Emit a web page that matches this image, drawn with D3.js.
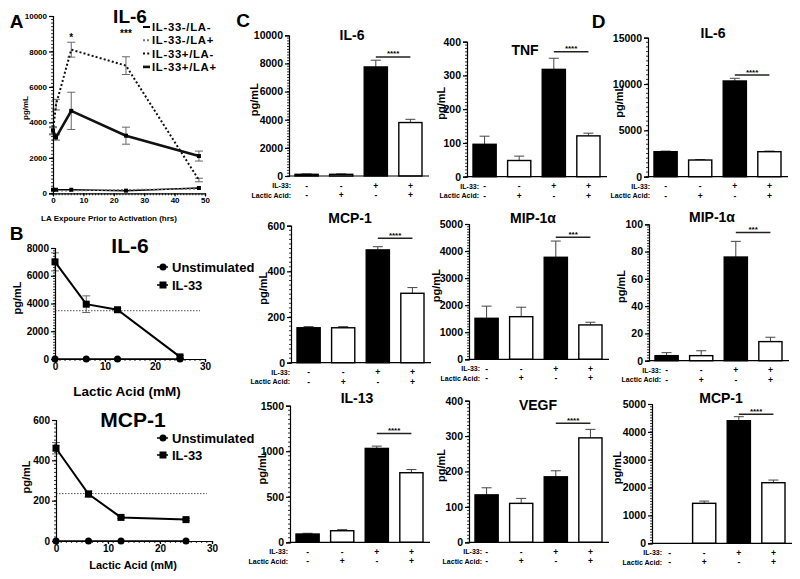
<!DOCTYPE html>
<html>
<head>
<meta charset="utf-8">
<script src="https://cdn.jsdelivr.net/npm/d3@7"></script>
<style>
  body { margin: 0; background: #fff; }
  svg { font-family: "Liberation Sans", Arial, Helvetica, sans-serif; font-weight: bold; }
</style>
</head>
<body>
<svg id="fig" width="800" height="579"></svg>
<script>
// ---- panel A: IL-6 vs hours of LA exposure ----
const aHours = [0, 1, 6, 24, 48];
const aSeries = ["IL-33-/LA-", "IL-33-/LA+", "IL-33+/LA-", "IL-33+/LA+"];
const aNegNeg = [200, 200, 200, 150, 300];
const aNegPos = [150, 150, 150, 200, 250];
const aPosNeg = [3500, 5000, 8100, 7200, 750];
const aPosNegSem = [200, 300, 420, 500, 100];
const aPosPos = [3550, 3150, 4650, 3250, 2100];
const aPosPosSem = [200, 150, 1050, 480, 280];
const aStarHours = [6, 24];
const aStarVals = [8850, 9100];
const aStarText = ["*", "***"];

// ---- panel B: dose response to lactic acid ----
const bDose = [0, 6.25, 12.5, 25];
const bSeries = ["Unstimulated", "IL-33"];
const bIL6Unstim = [0, 0, 0, 0];
const bIL6Stim = [7000, 3950, 3550, 150];
const bIL6StimSem = [650, 600, 100, 100];
const bIL6Ref = 3480;
const bMCPUnstim = [0, 0, 0, 0];
const bMCPStim = [460, 233, 117, 106];
const bMCPStimSem = [28, 15, 5, 5];
const bMCPRef = 235;

// ---- panels C and D: bar groups ----
const il33Row = ["-", "-", "+", "+"];
const laRow = ["-", "+", "-", "+"];
const cIL6 = [120, 120, 7750, 3800], cIL6Sem = [30, 30, 480, 230];
const cTNF = [96, 48, 318, 121], cTNFSem = [24, 13, 33, 8];
const dIL6 = [2700, 1800, 10330, 2700], dIL6Sem = [60, 50, 290, 60];
const cMCP1 = [153, 153, 494, 304], cMCP1Sem = [5, 5, 14, 25];
const cMIP = [1515, 1575, 3770, 1270], cMIPSem = [450, 350, 600, 100];
const dMIP = [3.7, 3.7, 76, 14], dMIPSem = [2.2, 3.6, 11.5, 3.2];
const cIL13 = [91, 127, 1031, 764], cIL13Sem = [8, 12, 25, 35];
const cVEGF = [134, 110, 185, 295], cVEGFSem = [20, 14, 17, 24];
const dMCP1 = [0, 1435, 4400, 2175], dMCP1Sem = [0, 80, 145, 95];

const svg = d3.select("#fig");

function text(x, y, s, size, anchor = "middle") {
  return svg.append("text").attr("x", x).attr("y", y).attr("text-anchor", anchor)
    .attr("font-size", size).text(s);
}

// left axis with major labels + dense minor ticks
function leftAxis(x, y, max, step, fs) {
  const g = svg.append("g").attr("transform", `translate(${x},0)`);
  g.call(d3.axisLeft(y).tickValues(d3.range(0, max + step / 2, step))
    .tickSize(4).tickPadding(2).tickFormat(d3.format("d")));
  g.attr("font-family", null).attr("font-size", null);
  g.selectAll("text").attr("font-size", fs).attr("fill", "#000");
  g.selectAll("path, line").attr("stroke", "#000").attr("stroke-width", 1.2);
  g.selectAll(".mn").data(d3.range(0, max, step / 10)).join("line")
    .attr("x1", -2).attr("x2", 0).attr("y1", d => y(d)).attr("y2", d => y(d))
    .attr("stroke", "#000").attr("stroke-width", 0.8);
  return g;
}

function bottomAxis(yPos, x, max, step, minor, fs) {
  const g = svg.append("g").attr("transform", `translate(0,${yPos})`);
  g.call(d3.axisBottom(x).tickValues(d3.range(0, max + step / 2, step))
    .tickSize(3).tickPadding(1).tickFormat(d3.format("d")));
  g.attr("font-family", null).attr("font-size", null);
  g.selectAll("text").attr("font-size", fs).attr("fill", "#000");
  g.selectAll("path, line").attr("stroke", "#000").attr("stroke-width", 1.2);
  g.selectAll(".mn").data(d3.range(0, max, minor)).join("line")
    .attr("x1", d => x(d)).attr("x2", d => x(d)).attr("y1", 0).attr("y2", 2)
    .attr("stroke", "#000").attr("stroke-width", 0.8);
  return g;
}

function errBars(x, y, xs, means, sems, cap) {
  xs.forEach((h, i) => {
    const cx = x(h), top = y(means[i] + sems[i]), bot = y(means[i] - sems[i]);
    svg.append("line").attr("x1", cx).attr("x2", cx).attr("y1", top).attr("y2", bot)
      .attr("stroke", "#666").attr("stroke-width", 1);
    [top, bot].forEach(v => svg.append("line").attr("x1", cx - cap).attr("x2", cx + cap)
      .attr("y1", v).attr("y2", v).attr("stroke", "#666").attr("stroke-width", 1));
  });
}

// ================= Panel A =================
{
  const x = d3.scaleLinear().domain([0, 50]).range([53, 205]);
  const y = d3.scaleLinear().domain([0, 10000]).range([193.3, 16]);
  const line = d3.line().x((d, i) => x(aHours[i])).y(d => y(d));

  errBars(x, y, aHours, aPosNeg, aPosNegSem, 4);
  errBars(x, y, aHours, aPosPos, aPosPosSem, 4);

  const styles = [
    { data: aNegNeg, color: "#000", w: 1.5, dash: null },
    { data: aNegPos, color: "#777", w: 1.5, dash: "2,2" },
    { data: aPosNeg, color: "#111", w: 2, dash: "2,2.2" },
    { data: aPosPos, color: "#111", w: 2.6, dash: null }
  ];
  styles.forEach(s => {
    svg.append("path").attr("d", line(s.data)).attr("fill", "none")
      .attr("stroke", s.color).attr("stroke-width", s.w).attr("stroke-dasharray", s.dash);
  });
  [aNegNeg, aPosPos].forEach(ser => ser.forEach((v, i) => {
    svg.append("rect").attr("x", x(aHours[i]) - 2).attr("y", y(v) - 2)
      .attr("width", 4).attr("height", 4).attr("fill", "#000");
  }));

  leftAxis(53, y, 10000, 2000, 8);
  bottomAxis(193.3, x, 50, 10, 1, 8);

  aStarHours.forEach((h, i) => text(x(h), y(aStarVals[i]) + 5, aStarText[i], 10));

  text(130, 23, "IL-6", 19);
  text(16.5, 28, "A", 19);
  svg.append("text").attr("transform", "translate(28,108) rotate(-90)")
    .attr("text-anchor", "middle").attr("font-size", 8).text("pg/mL");
  text(109, 221, "LA Expoure Prior to Activation (hrs)", 8);

  aSeries.forEach((name, i) => {
    const ly = 27 + 13.3 * i, s = styles[i];
    svg.append("line").attr("x1", 143).attr("x2", 150).attr("y1", ly).attr("y2", ly)
      .attr("stroke", s.color).attr("stroke-width", i === 3 ? 2.6 : 2)
      .attr("stroke-dasharray", s.dash);
    text(152, ly + 4, name, 11.3, "start").attr("letter-spacing", 0.7);
  });
}

// ================= Panel B =================
function dosePanel(o) {
  const x = d3.scaleLinear().domain([0, 30]).range([o.x0, o.x1]);
  const y = d3.scaleLinear().domain([0, o.max]).range([o.y0, o.y1]);
  const line = d3.line().x((d, i) => x(bDose[i])).y(d => y(d));

  svg.append("line").attr("x1", x(0)).attr("x2", x(29)).attr("y1", y(o.ref)).attr("y2", y(o.ref))
    .attr("stroke", "#555").attr("stroke-width", 1).attr("stroke-dasharray", "1.5,1.5");
  errBars(x, y, bDose, o.stim, o.sem, 4);
  svg.append("path").attr("d", line(o.unstim)).attr("fill", "none").attr("stroke", "#000").attr("stroke-width", 1.5);
  svg.append("path").attr("d", line(o.stim)).attr("fill", "none").attr("stroke", "#000").attr("stroke-width", 2);
  o.unstim.forEach((v, i) => svg.append("circle").attr("cx", x(bDose[i])).attr("cy", y(v)).attr("r", 3.5));
  o.stim.forEach((v, i) => svg.append("rect").attr("x", x(bDose[i]) - 3.5).attr("y", y(v) - 3.5)
    .attr("width", 7).attr("height", 7));

  leftAxis(o.x0, y, o.max, o.step, 10);
  bottomAxis(o.y0, x, 30, 10, 1, 10);

  text(o.tx, o.ty, o.title, 21);
  svg.append("text").attr("transform", `translate(${o.ytx},${o.yty}) rotate(-90)`)
    .attr("text-anchor", "middle").attr("font-size", 11).text("pg/mL");
  text(o.xtx, o.xty, "Lactic Acid (mM)", o.xfs);

  bSeries.forEach((name, i) => {
    const ly = o.ly + o.lstep * i;
    svg.append("line").attr("x1", 157).attr("x2", 168).attr("y1", ly).attr("y2", ly)
      .attr("stroke", "#000").attr("stroke-width", 1.5);
    if (i === 0) svg.append("circle").attr("cx", 163).attr("cy", ly).attr("r", 3.5);
    else svg.append("rect").attr("x", 159.5).attr("y", ly - 3.5).attr("width", 7).attr("height", 7);
    text(172, ly + 4.6, name, 13, "start");
  });
}

text(16.5, 240, "B", 19);
dosePanel({ x0: 55, x1: 205, y0: 359, y1: 248, max: 8000, step: 2000,
  unstim: bIL6Unstim, stim: bIL6Stim, sem: bIL6StimSem, ref: bIL6Ref,
  title: "IL-6", tx: 130, ty: 253, ytx: 21, yty: 298, xtx: 127, xty: 396, xfs: 13.5,
  ly: 267, lstep: 18 });
dosePanel({ x0: 56, x1: 212, y0: 541, y1: 420, max: 600, step: 200,
  unstim: bMCPUnstim, stim: bMCPStim, sem: bMCPStimSem, ref: bMCPRef,
  title: "MCP-1", tx: 133, ty: 427, ytx: 30, yty: 477, xtx: 133, xty: 569, xfs: 11,
  ly: 438, lstep: 17 });

// ================= Panels C and D =================
const barPanels = [
  { title: "IL-6", m: cIL6, e: cIL6Sem, max: 10000, step: 2000, sig: 8460, stars: "****",
    x: 289, y0: 35.3, y1: 176, tx: 63, ty: 40, lx: 2, ytx: -31 },
  { title: "TNF", m: cTNF, e: cTNFSem, max: 400, step: 100, sig: 370, stars: "****",
    x: 467, y0: 41.7, y1: 176.7, tx: 58, ty: 55, lx: 12, ytx: -22 },
  { title: "IL-6", m: dIL6, e: dIL6Sem, max: 15000, step: 5000, sig: 10970, stars: "****",
    x: 648, y0: 37.7, y1: 176.7, tx: 65, ty: 38, lx: 2, ytx: -25 },
  { title: "MCP-1", m: cMCP1, e: cMCP1Sem, max: 600, step: 200, sig: 545, stars: "****",
    x: 291, y0: 225.7, y1: 362.7, tx: 59, ty: 223, lx: -1, ytx: -24 },
  { title: "MIP-1α", m: cMIP, e: cMIPSem, max: 5000, step: 1000, sig: 4510, stars: "***",
    x: 469, y0: 224, y1: 359.3, tx: 64, ty: 223, lx: 11, ytx: -29 },
  { title: "MIP-1α", m: dMIP, e: dMIPSem, max: 100, step: 20, sig: 94, stars: "***",
    x: 649, y0: 224.3, y1: 360.7, tx: 63, ty: 222, lx: 12, ytx: -24 },
  { title: "IL-13", m: cIL13, e: cIL13Sem, max: 1500, step: 500, sig: 1196, stars: "****",
    x: 290, y0: 405.7, y1: 542.3, tx: 67, ty: 403, lx: -2, ytx: -24 },
  { title: "VEGF", m: cVEGF, e: cVEGFSem, max: 400, step: 100, sig: 336, stars: "****",
    x: 469, y0: 400.7, y1: 542.3, tx: 69, ty: 410, lx: 13, ytx: -24 },
  { title: "MCP-1", m: dMCP1, e: dMCP1Sem, max: 5000, step: 1000, sig: 4630, stars: "****",
    x: 652, y0: 404, y1: 543.3, tx: 69, ty: 403, lx: 10, ytx: -31 }
];

text(243, 27, "C", 19);
text(598.5, 28, "D", 19);

barPanels.forEach(p => {
  const y = d3.scaleLinear().domain([0, p.max]).range([p.y1, p.y0]);
  const x = d3.scaleBand().domain(d3.range(4)).range([p.x + 6, p.x + 133]).paddingInner(0.33);
  const bw = x.bandwidth(), cx = i => x(i) + bw / 2;

  // error bars (upper only)
  p.m.forEach((v, i) => {
    if (!p.e[i]) return;
    const t = y(v + p.e[i]);
    svg.append("line").attr("x1", cx(i)).attr("x2", cx(i)).attr("y1", y(v)).attr("y2", t)
      .attr("stroke", "#444").attr("stroke-width", 1);
    svg.append("line").attr("x1", cx(i) - 5).attr("x2", cx(i) + 5).attr("y1", t).attr("y2", t)
      .attr("stroke", "#444").attr("stroke-width", 1);
  });

  svg.append("g").selectAll("rect").data(p.m).join("rect")
    .attr("x", (d, i) => x(i)).attr("y", d => y(d))
    .attr("width", bw).attr("height", d => p.y1 - y(d))
    .attr("fill", (d, i) => laRow[i] === "+" ? "#fff" : "#000")
    .attr("stroke", "#000").attr("stroke-width", 1.4);

  leftAxis(p.x, y, p.max, p.step, 10.5);
  svg.append("line").attr("x1", p.x).attr("x2", p.x + 140).attr("y1", p.y1).attr("y2", p.y1)
    .attr("stroke", "#000").attr("stroke-width", 1.2);

  // significance bracket
  svg.append("line").attr("x1", cx(2)).attr("x2", cx(3)).attr("y1", y(p.sig)).attr("y2", y(p.sig))
    .attr("stroke", "#222").attr("stroke-width", 1.5);
  text((cx(2) + cx(3)) / 2, y(p.sig) - 0.5, p.stars, 8);

  text(p.x + p.tx, p.ty, p.title, 14);
  svg.append("text").attr("transform", `translate(${p.x + p.ytx},${(p.y0 + p.y1) / 2 - 6}) rotate(-90)`)
    .attr("text-anchor", "middle").attr("font-size", 11).text("pg/mL");

  // treatment rows
  text(p.x + p.lx, p.y1 + 12, "IL-33:", 7, "end");
  text(p.x + p.lx, p.y1 + 21.5, "Lactic Acid:", 7, "end");
  il33Row.forEach((s, i) => text(cx(i), p.y1 + 12.5, s, 8.5));
  laRow.forEach((s, i) => text(cx(i), p.y1 + 22, s, 8.5));
});
</script>
</body>
</html>
